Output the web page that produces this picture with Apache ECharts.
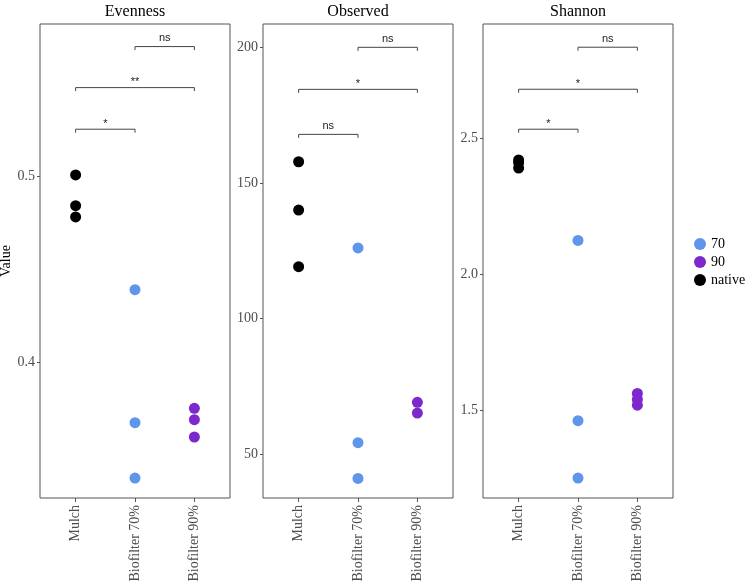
<!DOCTYPE html>
<html>
<head>
<meta charset="utf-8">
<script src="https://cdn.jsdelivr.net/npm/echarts@6/dist/echarts.min.js"></script>
<style>html,body{margin:0;padding:0;background:#fff}#c{width:750px;height:585px}</style>
</head>
<body>
<div id="c"></div>
<script>
// ---- data ----
const categories = ['Mulch', 'Biofilter 70%', 'Biofilter 90%'];
const panels = ['Evenness', 'Observed', 'Shannon'];
const groups = ['70', '90', 'native'];
const groupCategory = { '70': 2, '90': 3, 'native': 1 };

const evenness70 = [0.439, 0.3677, 0.338];
const evenness90 = [0.3754, 0.3693, 0.360];
const evennessNative = [0.5005, 0.484, 0.478];

const observed70 = [126, 54.2, 41];
const observed90 = [69.1, 65.1];
const observedNative = [157.8, 140, 119.1];

const shannon70 = [2.124, 1.461, 1.25];
const shannon90 = [1.561, 1.539, 1.518];
const shannonNative = [2.42, 2.41, 2.39];

const evennessTicks = [0.4, 0.5];
const observedTicks = [50, 100, 150, 200];
const shannonTicks = [1.5, 2.0, 2.5];

// significance brackets: [fromCategory, toCategory, y, label]
const evennessBrackets = [[2, 3, 0.5693, 'ns'], [1, 3, 0.5473, '**'], [1, 2, 0.525, '*']];
const observedBrackets = [[2, 3, 200, 'ns'], [1, 3, 184.5, '*'], [1, 2, 167.9, 'ns']];
const shannonBrackets = [[2, 3, 2.8346, 'ns'], [1, 3, 2.68, '*'], [1, 2, 2.533, '*']];

// ---- layout / style ----
const yRanges = [[0.3273, 0.5814], [33.8, 208.6], [1.1765, 2.92]];
const yTicks = [evennessTicks, observedTicks, shannonTicks];
const yDecimals = [1, 0, 1];
const panelData = [
  { '70': evenness70, '90': evenness90, 'native': evennessNative },
  { '70': observed70, '90': observed90, 'native': observedNative },
  { '70': shannon70, '90': shannon90, 'native': shannonNative }
];
const panelBrackets = [evennessBrackets, observedBrackets, shannonBrackets];
const colors = { '70': '#5f95ea', '90': '#7d28cc', 'native': '#000000' };
const lefts = [40, 263, 483];
const pw = 190, gTop = 24, ph = 474;
const serif = '"Liberation Serif", "DejaVu Serif", serif';

const grid = [], xAxis = [], yAxis = [], series = [], graphic = [];
panels.forEach((p, i) => {
  grid.push({ left: lefts[i], top: gTop, width: pw, height: ph, show: true,
    outerBoundsMode: 'none', containLabel: false,
    borderColor: '#555', borderWidth: 1, backgroundColor: '#fff' });
  xAxis.push({ type: 'value', gridIndex: i, min: 0.4, max: 3.6,
    splitLine: { show: false },
    axisLine: { show: false },
    axisTick: { show: true, length: 4, lineStyle: { color: '#555' }, customValues: [1, 2, 3] },
    axisLabel: { show: true, rotate: 90, margin: 7, customValues: [1, 2, 3],
      formatter: v => categories[Math.round(v) - 1] || '',
      fontFamily: serif, fontSize: 14, color: '#4d4d4d' }
  });
  yAxis.push({ type: 'value', gridIndex: i, min: yRanges[i][0], max: yRanges[i][1],
    name: i === 0 ? 'Value' : '', nameLocation: 'middle', nameGap: 25,
    nameTextStyle: { fontFamily: serif, fontSize: 14, color: '#000' },
    splitLine: { show: false },
    axisLine: { show: false },
    axisTick: { show: true, length: 3, lineStyle: { color: '#555' }, customValues: yTicks[i] },
    axisLabel: { show: true, margin: 5, customValues: yTicks[i],
      formatter: v => v.toFixed(yDecimals[i]),
      fontFamily: serif, fontSize: 14, color: '#4d4d4d' }
  });
  groups.forEach(g => {
    series.push({ type: 'scatter', name: g, xAxisIndex: i, yAxisIndex: i,
      symbol: 'circle', symbolSize: 11, itemStyle: { color: colors[g], opacity: 1 },
      data: panelData[i][g].map(v => [groupCategory[g], v]), z: 3 });
  });
  series.push({ type: 'custom', xAxisIndex: i, yAxisIndex: i, silent: true, z: 4,
    data: panelBrackets[i],
    renderItem: (params, api) => {
      const a = api.coord([api.value(0), api.value(2)]);
      const b = api.coord([api.value(1), api.value(2)]);
      const lab = panelBrackets[i][params.dataIndex][3];
      const star = lab !== 'ns';
      return { type: 'group', children: [
        { type: 'polyline', shape: { points: [[a[0], a[1] + 3.5], [a[0], a[1]], [b[0], b[1]], [b[0], b[1] + 3.5]] },
          style: { stroke: '#444', lineWidth: 1, fill: null } },
        { type: 'text', style: { text: lab, x: (a[0] + b[0]) / 2, y: a[1] - (star ? 0 : 3),
          align: 'center', verticalAlign: 'bottom',
          font: '11px "Liberation Sans", Arial, sans-serif', fill: '#222' } }
      ] };
    }
  });
  graphic.push({ type: 'text', x: lefts[i] + pw / 2, y: 4,
    style: { text: p, font: '16px ' + serif, fill: '#000', align: 'center' } });
});

const chart = echarts.init(document.getElementById('c'), null, { renderer: 'canvas' });
chart.setOption({
  animation: false,
  backgroundColor: '#fff',
  grid, xAxis, yAxis, series, graphic,
  legend: { data: groups, orient: 'vertical', left: 689, top: 232, itemGap: 4,
    icon: 'circle', itemWidth: 12, itemHeight: 12,
    textStyle: { fontFamily: serif, fontSize: 14, color: '#000' } }
});
</script>
</body>
</html>
